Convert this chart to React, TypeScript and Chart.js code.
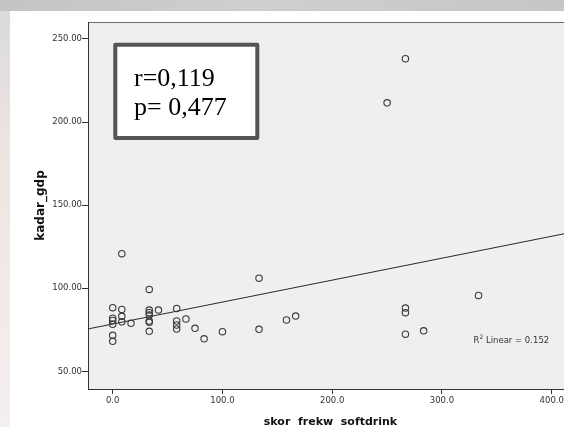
import React, { useEffect, useRef } from "react";
import { Chart, registerables } from "chart.js";

Chart.register(...registerables);

// Data
const softdrinkScore = [
  0, 0, 0, 0, 0, 0,
  8.3, 8.3, 8.3, 8.3,
  16.7,
  33.3, 33.3, 33.3, 33.3, 33.3, 33.3, 33.3,
  41.7,
  58.3, 58.3, 58.3, 58.3,
  66.7, 75, 83.3, 100,
  133.3, 133.3,
  158.3, 166.7,
  250,
  266.7, 266.7, 266.7, 266.7,
  283.3, 333.3,
];
const gdpLevel = [
  88.3, 82.0, 80.6, 78.3, 71.7, 68.1,
  120.8, 87.3, 83.1, 79.8,
  78.9,
  99.3, 86.9, 85.3, 83.9, 80.3, 79.5, 74.1,
  86.9,
  87.9, 80.3, 77.9, 75.5,
  81.5, 75.9, 69.6, 73.9,
  106.1, 75.3,
  80.9, 83.3,
  211.6,
  238.1, 88.1, 85.3, 72.4,
  74.4, 95.7,
];

const xTicks = [0, 100, 200, 300, 400];
const yTicks = [50, 100, 150, 200, 250];
const xRange = [-22.5, 412];
const yRange = [39.4, 260.2];

const fitIntercept = 78.5;
const fitSlope = 0.132;
const fitX = [-22.5, 412];

const statLines = ["r=0,119", "p= 0,477"];
const r2Label = "Linear = 0.152";
const xTitle = "skor  frekw  softdrink";
const yTitle = "kadar_gdp";

const TICK_FONT = "DejaVu Sans";

export default function App() {
  const canvasRef = useRef<HTMLCanvasElement | null>(null);

  useEffect(() => {
    const canvas = canvasRef.current;
    if (!canvas) return;

    const decor = {
      id: "decor",
      beforeDraw(chart: any) {
        const { ctx, chartArea } = chart;
        const W = chart.width;
        const H = chart.height;
        ctx.save();
        ctx.fillStyle = "#ffffff";
        ctx.fillRect(0, 0, W, H);
        const g = ctx.createLinearGradient(0, 0, W, 0);
        g.addColorStop(0, "#c4c4c4");
        g.addColorStop(0.45, "#cfcfcf");
        g.addColorStop(1, "#c6c6c6");
        ctx.fillStyle = g;
        ctx.fillRect(0, 0, W, 11);
        const g2 = ctx.createLinearGradient(0, 0, 0, H);
        g2.addColorStop(0, "#d9d9d9");
        g2.addColorStop(0.4, "#efe6e3");
        g2.addColorStop(1, "#f3efee");
        ctx.fillStyle = g2;
        ctx.fillRect(0, 11, 10, H - 11);
        ctx.fillStyle = "#efefef";
        ctx.fillRect(
          chartArea.left,
          chartArea.top,
          chartArea.right - chartArea.left,
          chartArea.bottom - chartArea.top
        );
        ctx.strokeStyle = "#6a6a6a";
        ctx.lineWidth = 1;
        ctx.beginPath();
        ctx.moveTo(chartArea.left, chartArea.top + 0.5);
        ctx.lineTo(chartArea.right, chartArea.top + 0.5);
        ctx.stroke();
        ctx.restore();
      },
      afterDraw(chart: any) {
        const { ctx, chartArea } = chart;
        ctx.save();
        ctx.fillStyle = "#111";
        ctx.font = `bold 11px "${TICK_FONT}"`;
        ctx.textAlign = "center";
        ctx.textBaseline = "middle";
        ctx.fillText(xTitle, (chartArea.left + chartArea.right) / 2 + 4, 422);
        ctx.save();
        ctx.translate(41, (chartArea.top + chartArea.bottom) / 2);
        ctx.rotate(-Math.PI / 2);
        ctx.font = `bold 12px "${TICK_FONT}"`;
        ctx.fillText(yTitle, 0, 0);
        ctx.restore();

        const bx = 115.3, by = 44.7, bw = 142, bh = 93.3;
        ctx.fillStyle = "#ffffff";
        ctx.fillRect(bx, by, bw, bh);
        ctx.strokeStyle = "#555555";
        ctx.lineWidth = 4;
        ctx.lineJoin = "round";
        ctx.strokeRect(bx, by, bw, bh);
        ctx.fillStyle = "#000";
        ctx.font = `26px "Liberation Serif"`;
        ctx.textAlign = "left";
        ctx.textBaseline = "alphabetic";
        ctx.fillText(statLines[0], 134, 86);
        ctx.fillText(statLines[1], 134, 115);

        ctx.fillStyle = "#333";
        ctx.font = `8.5px "${TICK_FONT}"`;
        ctx.textBaseline = "alphabetic";
        let x = 473.5;
        const base = 342.5;
        ctx.fillText("R", x, base);
        x += ctx.measureText("R").width;
        ctx.font = `6px "${TICK_FONT}"`;
        ctx.fillText("2", x, base - 3.5);
        x += ctx.measureText("2").width;
        ctx.font = `8.5px "${TICK_FONT}"`;
        ctx.fillText(" " + r2Label, x, base);
        ctx.restore();
      },
    };

    const chart = new Chart(canvas, {
      type: "scatter",
      data: {
        datasets: [
          {
            type: "scatter",
            data: softdrinkScore.map((v, i) => ({ x: v, y: gdpLevel[i] })),
            pointRadius: 3.2,
            pointBorderWidth: 1.1,
            pointBorderColor: "#3a3a3a",
            pointBackgroundColor: "rgba(0,0,0,0)",
            order: 1,
          },
          {
            type: "line",
            data: fitX.map((v) => ({ x: v, y: fitIntercept + fitSlope * v })),
            borderColor: "#2a2a2a",
            borderWidth: 1,
            pointRadius: 0,
            fill: false,
            order: 2,
          } as any,
        ],
      },
      options: {
        responsive: false,
        animation: false,
        devicePixelRatio: 1,
        layout: { padding: { top: 22, left: 0, right: 0, bottom: 0 } },
        plugins: {
          legend: { display: false },
          tooltip: { enabled: false },
        },
        scales: {
          x: {
            type: "linear",
            min: xRange[0],
            max: xRange[1],
            afterBuildTicks: (s: any) => {
              s.ticks = xTicks.map((v) => ({ value: v }));
            },
            afterFit: (s: any) => {
              s.height = 38;
            },
            ticks: {
              callback: (v: any) => Number(v).toFixed(1),
              font: { family: TICK_FONT, size: 8.5 },
              color: "#333",
              padding: 2,
              maxRotation: 0,
            },
            grid: {
              display: true,
              drawOnChartArea: false,
              drawTicks: true,
              tickLength: 5,
              color: "#333",
            },
            border: { display: true, color: "#333", width: 1 },
          },
          y: {
            type: "linear",
            min: yRange[0],
            max: yRange[1],
            afterBuildTicks: (s: any) => {
              s.ticks = yTicks.map((v) => ({ value: v }));
            },
            afterFit: (s: any) => {
              s.width = 88;
            },
            ticks: {
              callback: (v: any) => Number(v).toFixed(2),
              font: { family: TICK_FONT, size: 8.5 },
              color: "#333",
              padding: 0,
            },
            grid: {
              display: true,
              drawOnChartArea: false,
              drawTicks: true,
              tickLength: 6,
              color: "#333",
            },
            border: { display: true, color: "#333", width: 1 },
          },
        },
      },
      plugins: [decor],
    });

    return () => chart.destroy();
  }, []);

  return (
    <div style={{ position: "absolute", left: 0, top: 0, width: 564, height: 427, overflow: "hidden" }}>
      <canvas ref={canvasRef} width={570} height={427} style={{ display: "block", width: 570, height: 427 }} />
    </div>
  );
}
